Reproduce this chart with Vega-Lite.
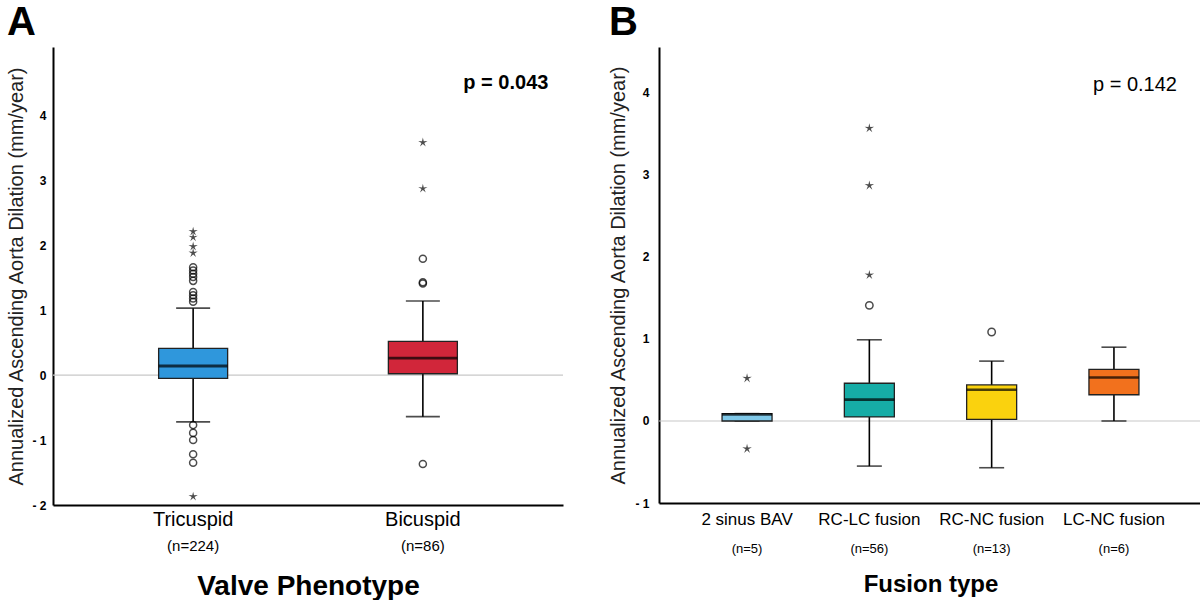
{
  "$schema": "https://vega.github.io/schema/vega-lite/v6.json",
  "padding": {"left": 6, "top": 3, "right": 0, "bottom": 0},
  "config": {
    "font": "Liberation Sans",
    "view": {"stroke": null},
    "axis": {"grid": false}
  },
  "resolve": {"scale": {"color": "independent", "x": "independent", "y": "independent"}},
  "spacing": 44,
  "hconcat": [
    {
      "width": 510,
      "height": 458,
      "title": {"text": "A", "anchor": "start", "frame": "bounds", "fontSize": 40, "fontWeight": "bold", "offset": 4},
      "data": {"values": [
        {"group": "Tricuspid", "lower": -0.72, "q1": -0.05, "median": 0.14, "q3": 0.41, "upper": 1.03},
        {"group": "Bicuspid", "lower": -0.64, "q1": 0.02, "median": 0.26, "q3": 0.52, "upper": 1.14}
      ]},
      "resolve": {"axis": {"x": "independent"}},
      "layer": [
        {
          "data": {"values": [{"z": 0}]},
          "mark": {"type": "rule", "color": "#c8c8c8", "strokeWidth": 1.2},
          "encoding": {
            "y": {"field": "z", "type": "quantitative",
              "scale": {"domain": [-2, 5.05], "nice": false, "zero": false},
              "axis": {"values": [-2, -1, 0, 1, 2, 3, 4], "labelExpr": "datum.value < 0 ? '- ' + (-datum.value) : '' + datum.value",
                "ticks": false, "domainColor": "black", "domainWidth": 2, "labelFontWeight": "bold", "labelFontSize": 12,
                "labelColor": "black", "labelPadding": 7, "title": "Annualized Ascending Aorta Dilation (mm/year)",
                "titleFontSize": 20, "titleFontWeight": "normal", "titleColor": "#222", "titlePadding": 5}}
          }
        },
        {
          "mark": {"type": "rule", "color": "black", "strokeWidth": 1.6},
          "encoding": {
            "x": {"field": "group", "type": "nominal", "sort": ["Tricuspid", "Bicuspid"],
              "scale": {"paddingInner": 0, "paddingOuter": 0.11},
              "axis": {"orient": "bottom", "title": null, "ticks": false, "domainColor": "black", "domainWidth": 2,
                "labelFontSize": 20, "labelColor": "black", "labelPadding": 4, "labelAngle": 0}},
            "y": {"field": "lower", "type": "quantitative"},
            "y2": {"field": "upper"}
          }
        },
        {
          "mark": {"type": "tick", "color": "black", "size": 34, "thickness": 1.6},
          "encoding": {
            "x": {"field": "group", "type": "nominal", "sort": ["Tricuspid", "Bicuspid"], "axis": null},
            "y": {"field": "upper", "type": "quantitative"}
          }
        },
        {
          "mark": {"type": "tick", "color": "black", "size": 34, "thickness": 1.6},
          "encoding": {
            "x": {"field": "group", "type": "nominal", "sort": ["Tricuspid", "Bicuspid"], "axis": null},
            "y": {"field": "lower", "type": "quantitative"}
          }
        },
        {
          "mark": {"type": "bar", "size": 69, "stroke": "#222", "strokeWidth": 1.3},
          "encoding": {
            "x": {"field": "group", "type": "nominal", "sort": ["Tricuspid", "Bicuspid"],
              "axis": {"orient": "bottom", "offset": 30, "domain": false, "ticks": false, "labelAngle": 0,
                "labelExpr": "datum.label == 'Tricuspid' ? '(n=224)' : '(n=86)'", "labelFontSize": 15, "labelColor": "black", "labelPadding": 3,
                "title": "Valve Phenotype", "titleFontSize": 28, "titleFontWeight": "bold", "titleColor": "black", "titlePadding": 19}},
            "y": {"field": "q1", "type": "quantitative"},
            "y2": {"field": "q3"},
            "color": {"field": "group", "type": "nominal", "scale": {"domain": ["Tricuspid", "Bicuspid"], "range": ["#2f97dc", "#d1263a"]}, "legend": null}
          }
        },
        {
          "mark": {"type": "tick", "color": "black", "size": 69, "thickness": 2.8},
          "encoding": {
            "x": {"field": "group", "type": "nominal", "sort": ["Tricuspid", "Bicuspid"], "axis": null},
            "y": {"field": "median", "type": "quantitative"}
          }
        },
        {
          "data": {"values": [
            {"group": "Tricuspid", "value": 1.66}, {"group": "Tricuspid", "value": 1.61}, {"group": "Tricuspid", "value": 1.56},
            {"group": "Tricuspid", "value": 1.51}, {"group": "Tricuspid", "value": 1.45}, {"group": "Tricuspid", "value": 1.28},
            {"group": "Tricuspid", "value": 1.23}, {"group": "Tricuspid", "value": 1.18}, {"group": "Tricuspid", "value": 1.13},
            {"group": "Tricuspid", "value": -0.77}, {"group": "Tricuspid", "value": -0.89}, {"group": "Tricuspid", "value": -1.0},
            {"group": "Tricuspid", "value": -1.22}, {"group": "Tricuspid", "value": -1.35},
            {"group": "Bicuspid", "value": 1.79}, {"group": "Bicuspid", "value": 1.43}, {"group": "Bicuspid", "value": 1.41},
            {"group": "Bicuspid", "value": -1.37}
          ]},
          "mark": {"type": "point", "shape": "circle", "filled": false, "color": "black", "strokeWidth": 1.5, "size": 50},
          "encoding": {
            "x": {"field": "group", "type": "nominal", "sort": ["Tricuspid", "Bicuspid"], "axis": null},
            "y": {"field": "value", "type": "quantitative"}
          }
        },
        {
          "data": {"values": [
            {"group": "Tricuspid", "value": 2.21}, {"group": "Tricuspid", "value": 2.12}, {"group": "Tricuspid", "value": 1.98},
            {"group": "Tricuspid", "value": 1.88}, {"group": "Tricuspid", "value": -1.87},
            {"group": "Bicuspid", "value": 3.58}, {"group": "Bicuspid", "value": 2.87}
          ]},
          "mark": {"type": "point", "shape": "M0,-1L0.18,-0.25L0.95,-0.31L0.29,0.09L0.59,0.81L0,0.3L-0.59,0.81L-0.29,0.09L-0.95,-0.31L-0.18,-0.25Z", "filled": true, "color": "black", "size": 95},
          "encoding": {
            "x": {"field": "group", "type": "nominal", "sort": ["Tricuspid", "Bicuspid"], "axis": null},
            "y": {"field": "value", "type": "quantitative"}
          }
        },
        {
          "data": {"values": [{"group": "Bicuspid", "p": "p = 0.043", "pos": 4.5}]},
          "mark": {"type": "text", "fontSize": 20, "fontWeight": "bold", "color": "black", "dx": 83},
          "encoding": {
            "x": {"field": "group", "type": "nominal", "sort": ["Tricuspid", "Bicuspid"], "axis": null},
            "y": {"field": "pos", "type": "quantitative"},
            "text": {"field": "p"}
          }
        }
      ]
    },
    {
      "width": 543,
      "height": 456,
      "title": {"text": "B", "anchor": "start", "frame": "bounds", "fontSize": 40, "fontWeight": "bold", "offset": 4},
      "data": {"values": [
        {"group": "2 sinus BAV", "lower": 0.0, "q1": 0.0, "median": 0.08, "q3": 0.09, "upper": 0.09},
        {"group": "RC-LC fusion", "lower": -0.55, "q1": 0.05, "median": 0.26, "q3": 0.46, "upper": 0.99},
        {"group": "RC-NC fusion", "lower": -0.57, "q1": 0.02, "median": 0.38, "q3": 0.44, "upper": 0.73},
        {"group": "LC-NC fusion", "lower": 0.0, "q1": 0.32, "median": 0.53, "q3": 0.63, "upper": 0.9}
      ]},
      "resolve": {"axis": {"x": "independent"}},
      "layer": [
        {
          "data": {"values": [{"z": 0}]},
          "mark": {"type": "rule", "color": "#c8c8c8", "strokeWidth": 1.2},
          "encoding": {
            "y": {"field": "z", "type": "quantitative",
              "scale": {"domain": [-1, 4.56], "nice": false, "zero": false},
              "axis": {"values": [-1, 0, 1, 2, 3, 4], "labelExpr": "datum.value < 0 ? '- ' + (-datum.value) : '' + datum.value",
                "ticks": false, "domainColor": "black", "domainWidth": 2, "labelFontWeight": "bold", "labelFontSize": 12,
                "labelColor": "black", "labelPadding": 10, "title": "Annualized Ascending Aorta Dilation (mm/year)",
                "titleFontSize": 20, "titleFontWeight": "normal", "titleColor": "#222", "titlePadding": 6}}
          }
        },
        {
          "mark": {"type": "rule", "color": "black", "strokeWidth": 1.6},
          "encoding": {
            "x": {"field": "group", "type": "nominal", "sort": ["2 sinus BAV", "RC-LC fusion", "RC-NC fusion", "LC-NC fusion"],
              "scale": {"paddingInner": 0, "paddingOuter": 0.22},
              "axis": {"orient": "bottom", "title": null, "ticks": false, "domainColor": "black", "domainWidth": 2,
                "labelFontSize": 17, "labelColor": "black", "labelPadding": 8, "labelAngle": 0}},
            "y": {"field": "lower", "type": "quantitative"},
            "y2": {"field": "upper"}
          }
        },
        {
          "mark": {"type": "tick", "color": "black", "size": 25, "thickness": 1.6},
          "encoding": {
            "x": {"field": "group", "type": "nominal", "sort": ["2 sinus BAV", "RC-LC fusion", "RC-NC fusion", "LC-NC fusion"], "axis": null},
            "y": {"field": "upper", "type": "quantitative"}
          }
        },
        {
          "mark": {"type": "tick", "color": "black", "size": 25, "thickness": 1.6},
          "encoding": {
            "x": {"field": "group", "type": "nominal", "sort": ["2 sinus BAV", "RC-LC fusion", "RC-NC fusion", "LC-NC fusion"], "axis": null},
            "y": {"field": "lower", "type": "quantitative"}
          }
        },
        {
          "mark": {"type": "bar", "size": 50, "stroke": "#222", "strokeWidth": 1.3},
          "encoding": {
            "x": {"field": "group", "type": "nominal", "sort": ["2 sinus BAV", "RC-LC fusion", "RC-NC fusion", "LC-NC fusion"],
              "axis": {"orient": "bottom", "offset": 36, "domain": false, "ticks": false, "labelAngle": 0,
                "labelExpr": "datum.label == '2 sinus BAV' ? '(n=5)' : datum.label == 'RC-LC fusion' ? '(n=56)' : datum.label == 'RC-NC fusion' ? '(n=13)' : '(n=6)'",
                "labelFontSize": 13, "labelColor": "black", "labelPadding": 3,
                "title": "Fusion type", "titleFontSize": 24, "titleFontWeight": "bold", "titleColor": "black", "titlePadding": 17}},
            "y": {"field": "q1", "type": "quantitative"},
            "y2": {"field": "q3"},
            "color": {"field": "group", "type": "nominal", "scale": {"domain": ["2 sinus BAV", "RC-LC fusion", "RC-NC fusion", "LC-NC fusion"], "range": ["#7fc8e8", "#16aca6", "#fad20e", "#f2711d"]}, "legend": null}
          }
        },
        {
          "mark": {"type": "tick", "color": "black", "size": 50, "thickness": 2.6},
          "encoding": {
            "x": {"field": "group", "type": "nominal", "sort": ["2 sinus BAV", "RC-LC fusion", "RC-NC fusion", "LC-NC fusion"], "axis": null},
            "y": {"field": "median", "type": "quantitative"}
          }
        },
        {
          "data": {"values": [
            {"group": "RC-LC fusion", "value": 1.41}, {"group": "RC-NC fusion", "value": 1.085}
          ]},
          "mark": {"type": "point", "shape": "circle", "filled": false, "color": "black", "strokeWidth": 1.5, "size": 55},
          "encoding": {
            "x": {"field": "group", "type": "nominal", "sort": ["2 sinus BAV", "RC-LC fusion", "RC-NC fusion", "LC-NC fusion"], "axis": null},
            "y": {"field": "value", "type": "quantitative"}
          }
        },
        {
          "data": {"values": [
            {"group": "2 sinus BAV", "value": 0.52}, {"group": "2 sinus BAV", "value": -0.34},
            {"group": "RC-LC fusion", "value": 3.57}, {"group": "RC-LC fusion", "value": 2.87}, {"group": "RC-LC fusion", "value": 1.78}
          ]},
          "mark": {"type": "point", "shape": "M0,-1L0.18,-0.25L0.95,-0.31L0.29,0.09L0.59,0.81L0,0.3L-0.59,0.81L-0.29,0.09L-0.95,-0.31L-0.18,-0.25Z", "filled": true, "color": "black", "size": 100},
          "encoding": {
            "x": {"field": "group", "type": "nominal", "sort": ["2 sinus BAV", "RC-LC fusion", "RC-NC fusion", "LC-NC fusion"], "axis": null},
            "y": {"field": "value", "type": "quantitative"}
          }
        },
        {
          "data": {"values": [{"group": "LC-NC fusion", "p": "p = 0.142", "pos": 4.1}]},
          "mark": {"type": "text", "fontSize": 20, "color": "black", "dx": 21},
          "encoding": {
            "x": {"field": "group", "type": "nominal", "sort": ["2 sinus BAV", "RC-LC fusion", "RC-NC fusion", "LC-NC fusion"], "axis": null},
            "y": {"field": "pos", "type": "quantitative"},
            "text": {"field": "p"}
          }
        }
      ]
    }
  ]
}
